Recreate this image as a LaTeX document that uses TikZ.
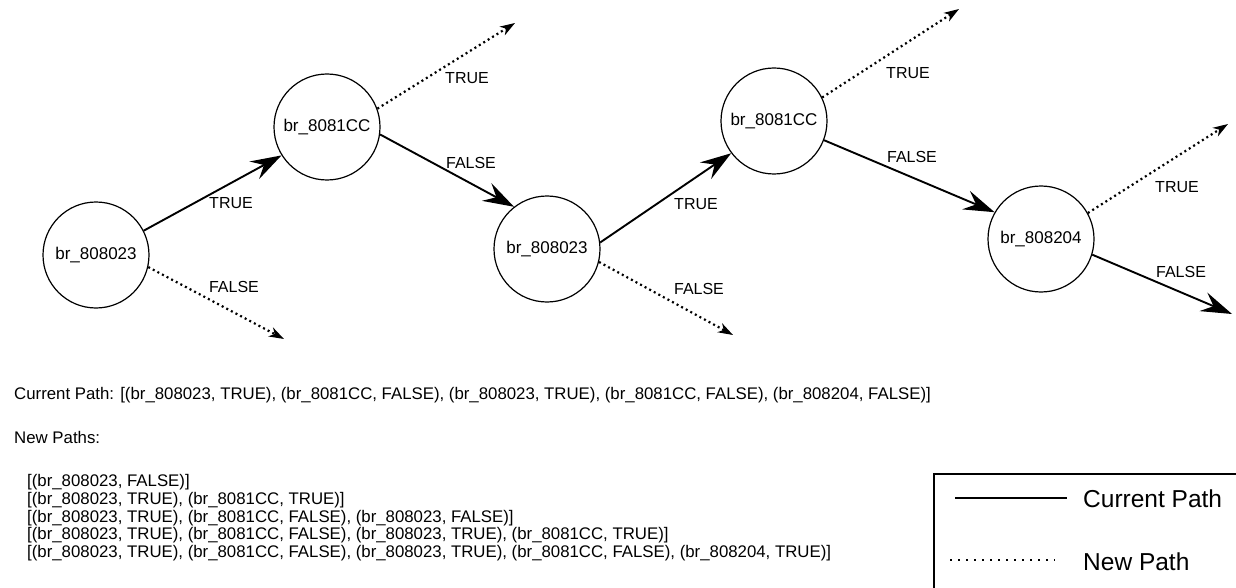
\documentclass[tikz,border=0pt]{standalone}
\usepackage{fontspec}
\setmainfont{Liberation Sans}
\usetikzlibrary{arrows.meta}
\tikzset{
  br/.style={circle, draw, line width=1.2pt, minimum size=106pt, inner sep=0pt, font=\fontsize{17}{20}\selectfont},
  lbl/.style={font=\fontsize{16}{19}\selectfont, inner sep=0pt},
  cur/.style={line width=1.9pt, -{Stealth[length=31pt,width=20pt,inset=11pt]}},
  newp/.style={line width=2.2pt, dash pattern=on 2pt off 3.2pt, -{Stealth[length=15pt,width=10pt,inset=4.5pt]}},
  txt/.style={anchor=base west, inner sep=0pt, font=\fontsize{16.8}{20}\selectfont},
  leg/.style={anchor=base west, inner sep=0pt, font=\fontsize{24.5}{28}\selectfont},
}
\begin{document}
\begin{tikzpicture}[x=1pt,y=-1pt]
\useasboundingbox (0,0) rectangle (1236,588);
\clip (0,0) rectangle (1236,588);
\fill[white] (0,0) rectangle (1236,588);

% nodes
\node[br] (n1) at (96,255) {br\_808023};
\node[br] (n2) at (327,127) {br\_8081CC};
\node[br] (n3) at (547,249) {br\_808023};
\node[br] (n4) at (774,121) {br\_8081CC};
\node[br] (n5) at (1041,239) {br\_808204};

% free ends
\coordinate (f1) at (284,339);
\coordinate (t2) at (515,23);
\coordinate (f3) at (733,335);
\coordinate (t4) at (959,9);
\coordinate (t5) at (1228,124);
\coordinate (f5) at (1232,314);

% current path
\draw[cur] (n1.27.5) -- (n2.212);
\draw[cur] (n2.-8.6) -- (n3.128);
\draw[cur] (n3.7.8) -- (n4.217);
\draw[cur] (n4.-21) -- (n5.150);
\draw[cur] (n5.-17) -- (f5);

% new paths
\draw[newp] (n1.-13) -- (f1);
\draw[newp] (n2.20.4) -- (t2);
\draw[newp] (n3.-14) -- (f3);
\draw[newp] (n4.26) -- (t4);
\draw[newp] (n5.29) -- (t5);

% edge labels
\node[lbl] (l1t) at (231,203) {TRUE};
\node[lbl] (l1f) at (234,287) {FALSE};
\node[lbl] (l2t) at (467,78) {TRUE};
\node[lbl] (l2f) at (471,163) {FALSE};
\node[lbl] (l3t) at (696,204) {TRUE};
\node[lbl] (l3f) at (699,289) {FALSE};
\node[lbl] (l4t) at (908,73) {TRUE};
\node[lbl] (l4f) at (912,157) {FALSE};
\node[lbl] (l5t) at (1177,187) {TRUE};
\node[lbl] (l5f) at (1181,272) {FALSE};

% text
\node[txt] (cp) at (14,399) {Current Path: [(br\_808023, TRUE), (br\_8081CC, FALSE), (br\_808023, TRUE), (br\_8081CC, FALSE), (br\_808204, FALSE)]};
\node[txt] (np) at (14,443) {New Paths:};
\node[txt] (p1) at (27,486) {[(br\_808023, FALSE)]};
\node[txt] (p2) at (27,504) {[(br\_808023, TRUE), (br\_8081CC, TRUE)]};
\node[txt] (p3) at (27,522) {[(br\_808023, TRUE), (br\_8081CC, FALSE), (br\_808023, FALSE)]};
\node[txt] (p4) at (27,539.5) {[(br\_808023, TRUE), (br\_8081CC, FALSE), (br\_808023, TRUE), (br\_8081CC, TRUE)]};
\node[txt] (p5) at (27,557) {[(br\_808023, TRUE), (br\_8081CC, FALSE), (br\_808023, TRUE), (br\_8081CC, FALSE), (br\_808204, TRUE)]};

% legend
\draw[line width=1.3pt] (934,474) rectangle (1260,620);
\coordinate (ls1) at (955,498);
\coordinate (ls2) at (1067,498);
\coordinate (ld1) at (950,560);
\coordinate (ld2) at (1055,560);
\draw[line width=1.9pt] (ls1) -- (ls2);
\draw[line width=1.6pt, dash pattern=on 1.6pt off 6.4pt] (ld1) -- (ld2);
\node[leg] (lcur) at (1083,507) {Current Path};
\node[leg] (lnew) at (1083,570) {New Path};
\end{tikzpicture}
\end{document}
